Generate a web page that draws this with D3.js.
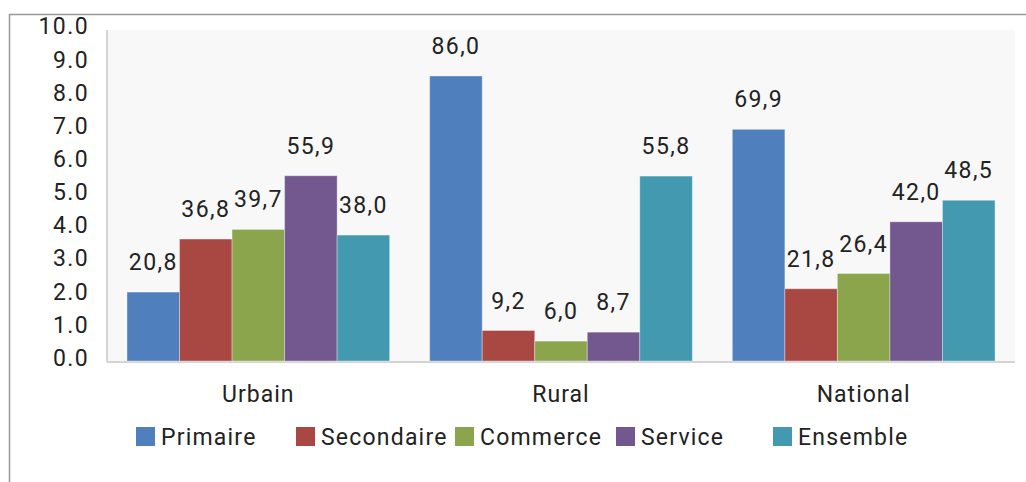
<!DOCTYPE html>
<html><head><meta charset="utf-8">
<script src="https://cdn.jsdelivr.net/npm/d3@7/dist/d3.min.js"></script>
<style>
html,body{margin:0;padding:0;background:#fff;}
svg{display:block;font-family:Roboto,"Noto Sans",sans-serif;}
</style></head>
<body><svg id="c" width="1026" height="482"></svg>
<script>
const categories = ["Urbain", "Rural", "National"];
const seriesNames = ["Primaire", "Secondaire", "Commerce", "Service", "Ensemble"];
const primaire   = [20.8, 86.0, 69.9];
const secondaire = [36.8, 9.2, 21.8];
const commerce   = [39.7, 6.0, 26.4];
const service    = [55.9, 8.7, 42.0];
const ensemble   = [38.0, 55.8, 48.5];
const yTicks = [0,1,2,3,4,5,6,7,8,9,10];
const colors = ["#4f7fbc", "#a94743", "#8aa54c", "#72588f", "#4399b0"];

const seriesValues = [primaire, secondaire, commerce, service, ensemble];
const svg = d3.select("#c");
const plot = {left:107, right:1015, top:30, bottom:361};

// outer frame
svg.append("line").attr("x1",9).attr("x2",1026).attr("y1",14.5).attr("y2",14.5).attr("stroke","#999").attr("stroke-width",1.5);
svg.append("line").attr("x1",9.5).attr("x2",9.5).attr("y1",14).attr("y2",482).attr("stroke","#999").attr("stroke-width",1.5);

// plot area
svg.append("rect").attr("x",plot.left).attr("y",plot.top).attr("width",plot.right-plot.left).attr("height",plot.bottom-plot.top).attr("fill","#f8f8f8");
svg.append("line").attr("x1",plot.left).attr("x2",plot.left).attr("y1",plot.top).attr("y2",plot.bottom+1).attr("stroke","#d4d4d4").attr("stroke-width",2);
svg.append("line").attr("x1",plot.left).attr("x2",plot.right).attr("y1",plot.bottom+1).attr("y2",plot.bottom+1).attr("stroke","#d4d4d4").attr("stroke-width",2);

const x0 = d3.scaleBand().domain(categories).range([plot.left, plot.right]).paddingInner(0).paddingOuter(0);
const x1 = d3.scaleBand().domain(seriesNames).range([20, x0.bandwidth()-20]).padding(0);
const y = d3.scaleLinear().domain([0,10]).range([plot.bottom, 29.6]);

// y axis labels
const yAxis = d3.axisLeft(y).tickValues(yTicks).tickFormat(d3.format(".1f")).tickSize(0).tickPadding(0);
const ya = svg.append("g").attr("transform","translate(89,-3)").call(yAxis);
ya.select(".domain").remove();
ya.selectAll("text").attr("font-size",23).attr("font-family","Roboto").attr("fill","#222").style("letter-spacing","1.4px");

// bars
const groups = svg.append("g").selectAll("g").data(categories).join("g")
  .attr("transform", d => `translate(${x0(d)},0)`);
groups.each(function(cat, ci){
  const g = d3.select(this);
  seriesNames.forEach((s, si) => {
    const v = seriesValues[si][ci];
    g.append("rect").attr("x", x1(s)).attr("width", x1.bandwidth())
      .attr("y", y(v/10)).attr("height", y(0)-y(v/10))
      .attr("fill", colors[si]).attr("stroke","rgba(255,255,255,0.35)").attr("stroke-width",1);
    g.append("text").attr("x", x1(s)+x1.bandwidth()/2).attr("y", y(v/10)-22)
      .attr("text-anchor","middle").attr("font-size",23).attr("fill","#222")
      .style("letter-spacing","1.4px")
      .text(d3.format(".1f")(v).replace(".", ","));
  });
});

// category labels
const xAxis = d3.axisBottom(x0).tickSize(0).tickPadding(0);
const xa = svg.append("g").attr("transform",`translate(0,${plot.bottom+41})`).call(xAxis);
xa.select(".domain").remove();
xa.selectAll("text").attr("font-size",23).attr("font-family","Roboto").attr("fill","#222").attr("dy",0).style("letter-spacing","1px");

// legend
const legendX = [136, 296, 455, 616, 773];
const lg = svg.append("g").selectAll("g").data(seriesNames).join("g")
  .attr("transform",(d,i)=>`translate(${legendX[i]},427)`);
lg.append("rect").attr("width",19).attr("height",19).attr("fill",(d,i)=>colors[i]);
lg.append("text").attr("x",25).attr("y",18).attr("font-size",23).attr("fill","#222")
  .style("letter-spacing","1.2px").text(d=>d);
</script></body></html>
